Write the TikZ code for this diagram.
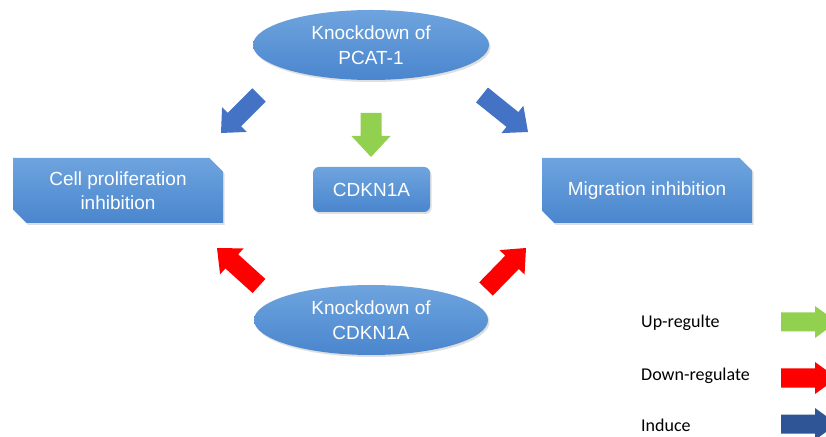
\documentclass[tikz,border=0pt]{standalone}
\usepackage{fontspec}
\setmainfont{Liberation Sans}
\newfontfamily\legfont{Carlito}
\usetikzlibrary{shapes.misc,shapes.geometric,shadows,calc}
\definecolor{boxtop}{HTML}{6EA4DE}
\definecolor{boxbot}{HTML}{4A86CE}
\definecolor{arrblue}{HTML}{4472C4}
\definecolor{legblue}{HTML}{2F5597}
\definecolor{arrgreen}{HTML}{92D050}
\definecolor{arrred}{HTML}{FF0000}
\tikzset{
  bluefill/.style={top color=boxtop,bottom color=boxbot,draw=none,
    drop shadow={opacity=0.25,shadow xshift=1.5pt,shadow yshift=-2pt}},
  ellnode/.style={ellipse,bluefill,text=white,align=center,
    font=\fontsize{19}{25}\selectfont,inner sep=0pt},
  snipbox/.style={chamfered rectangle,chamfered rectangle corners={north east,south west},
    chamfered rectangle angle=45,chamfered rectangle xsep=10pt,
    bluefill,text=white,align=center,font=\fontsize{19}{24}\selectfont,
    minimum width=210pt,minimum height=65pt,inner sep=0pt},
  roundbox/.style={rectangle,rounded corners=6pt,bluefill,text=white,
    font=\fontsize{19}{24}\selectfont,minimum width=117pt,minimum height=45pt,inner sep=0pt},
  legtext/.style={anchor=west,font=\legfont\fontsize{18}{22}\selectfont,text=black,inner sep=0pt}
}
% block arrow: #1 colour, #2 tail, #3 tip, #4 half shaft, #5 half head, #6 head length
\newcommand\blockarr[6]{%
  \coordinate (hb) at ($(#3)!#6!(#2)$);
  \fill[#1] ($(#2)!#4!90:(#3)$) -- ($(hb)!#4!-90:(#2)$) -- ($(hb)!#5!-90:(#2)$)
    -- (#3) -- ($(hb)!#5!90:(#2)$) -- ($(hb)!#4!90:(#2)$) -- ($(#2)!#4!-90:(#3)$) -- cycle;
}
\begin{document}
\begin{tikzpicture}[x=1pt,y=1pt]
\clip (0,0) rectangle (826,436);
\fill[white] (0,0) rectangle (826,436);

\node[ellnode,minimum width=236pt,minimum height=70pt] (kdp) at (371,391) {Knockdown of\\PCAT-1};
\node[ellnode,minimum width=234pt,minimum height=70pt] (kdc) at (371,116) {Knockdown of\\CDKN1A};
\node[snipbox] (cell) at (118,245.5) {Cell proliferation\\inhibition};
\node[snipbox] (mig) at (647,245.5) {Migration inhibition};
\node[roundbox] (cdk) at (371.5,246.5) {CDKN1A};

% diagram arrows
\coordinate (gt) at (371,323); \coordinate (gh) at (371,279);
\coordinate (b1t) at (259,341); \coordinate (b1h) at (221,303);
\coordinate (b2t) at (482,341); \coordinate (b2h) at (528,304);
\coordinate (r1t) at (259,150); \coordinate (r1h) at (217,188);
\coordinate (r2t) at (486,147); \coordinate (r2h) at (526,188);
\blockarr{arrgreen}{gt}{gh}{10.5pt}{19.5pt}{21pt}
\blockarr{arrblue}{b1t}{b1h}{9.5pt}{17.5pt}{19pt}
\blockarr{arrblue}{b2t}{b2h}{9.5pt}{17.5pt}{20pt}
\blockarr{arrred}{r1t}{r1h}{9.5pt}{17.5pt}{20pt}
\blockarr{arrred}{r2t}{r2h}{9.5pt}{17.5pt}{20pt}

% legend
\node[legtext] (lup) at (641,113) {Up-regulte};
\node[legtext] (ldown) at (641,60) {Down-regulate};
\node[legtext] (lind) at (641,11) {Induce};
\coordinate (lgt) at (781,114); \coordinate (lgh) at (837,114);
\coordinate (lrt) at (781,58); \coordinate (lrh) at (837,58);
\coordinate (lbt) at (781,12); \coordinate (lbh) at (837,12);
\blockarr{arrgreen}{lgt}{lgh}{9.5pt}{16pt}{22pt}
\blockarr{arrred}{lrt}{lrh}{9.5pt}{16pt}{22pt}
\blockarr{legblue}{lbt}{lbh}{9.5pt}{16pt}{22pt}
\end{tikzpicture}
\end{document}
